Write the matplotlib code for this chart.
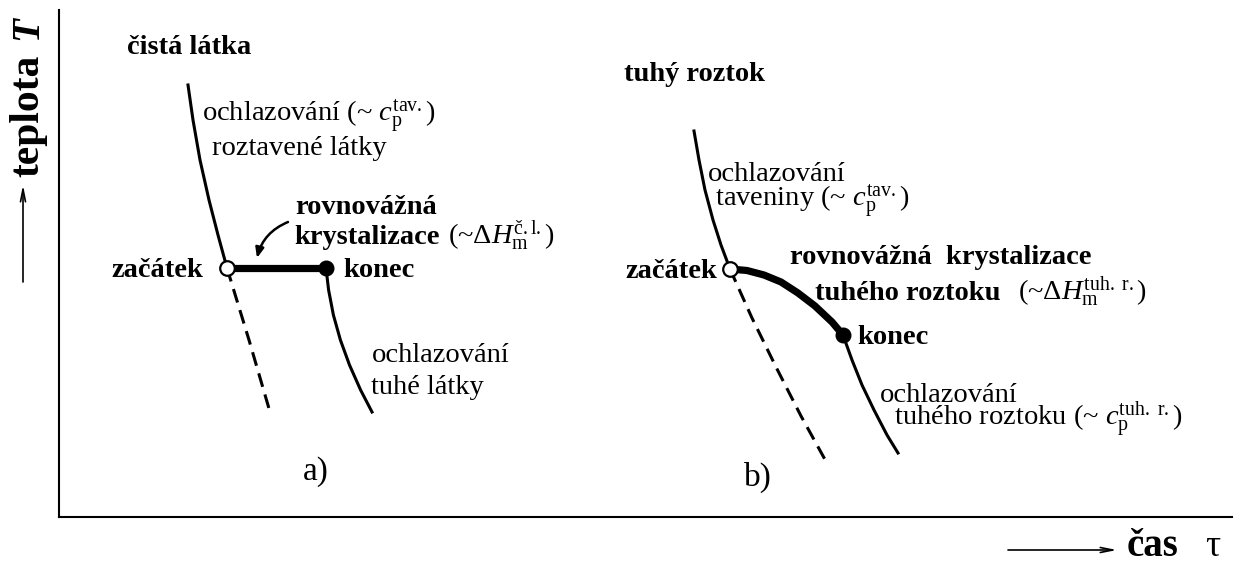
import matplotlib
matplotlib.use("Agg")
import matplotlib.pyplot as plt

plt.rcParams['font.family'] = ['Liberation Serif', 'DejaVu Serif']
plt.rcParams['mathtext.fontset'] = 'custom'
plt.rcParams['mathtext.rm'] = 'Liberation Serif'
plt.rcParams['mathtext.it'] = 'Liberation Serif:italic'
plt.rcParams['mathtext.bf'] = 'Liberation Serif:bold'

# ---- data (time tau, temperature T in arbitrary units) ----
# panel a) pure substance
melt_a_tau = [12.9, 13.4, 14.1, 15.0, 15.9, 16.8]
melt_a_T = [43.2, 39.7, 35.7, 31.7, 28.2, 24.9]
under_a_tau = [16.8, 19.0, 21.1]
under_a_T = [24.9, 17.7, 10.5]
plateau_a_tau = [16.8, 26.7]
plateau_a_T = [24.9, 24.9]
solid_a_tau = [26.7, 26.96, 27.44, 28.14, 29.05, 30.16, 31.3]
solid_a_T = [24.9, 22.7, 20.2, 17.7, 15.2, 12.7, 10.5]

# panel b) solid solution
melt_b_tau = [63.5, 64.0, 64.6, 65.4, 66.2, 67.1]
melt_b_T = [38.6, 35.7, 32.7, 29.7, 27.2, 24.8]
under_b_tau = [67.1, 69.3, 71.7, 74.2, 76.9]
under_b_T = [24.8, 19.9, 15.0, 10.1, 5.2]
cryst_b_tau = [67.1, 68.8, 70.5, 72.2, 73.9, 75.6, 77.3, 78.4]
cryst_b_T = [24.8, 24.65, 24.2, 23.5, 22.4, 21.1, 19.5, 18.2]
solid_b_tau = [78.4, 79.3, 80.3, 81.5, 82.8, 83.9]
solid_b_T = [18.2, 15.7, 13.2, 10.7, 8.2, 6.4]

start_tau = [16.8, 67.1]
start_T = [24.9, 24.8]
end_tau = [26.7, 78.4]
end_T = [24.9, 18.2]

W, H = 1237, 566
fig = plt.figure(figsize=(W / 100, H / 100), dpi=100)
ax = fig.add_axes([59 / W, (H - 517) / H, (1232 - 59) / W, (517 - 10) / H])
ax.set_xlim(0, 117.3)
ax.set_ylim(0, 50.7)
ax.set_xticks([])
ax.set_yticks([])
for s in ['top', 'right']:
    ax.spines[s].set_visible(False)
for s in ['left', 'bottom']:
    ax.spines[s].set_linewidth(1.5)
    ax.spines[s].set_color('black')

lw = 2.2
dash = (0, (4.6, 2.6))
# panel a
ax.plot(melt_a_tau, melt_a_T, color='black', lw=lw, solid_joinstyle='round')
ax.plot(under_a_tau, under_a_T, color='black', lw=lw, ls=dash)
ax.plot(plateau_a_tau, plateau_a_T, color='black', lw=5.2, solid_capstyle='butt')
ax.plot(solid_a_tau, solid_a_T, color='black', lw=lw, solid_joinstyle='round')
# panel b
ax.plot(melt_b_tau, melt_b_T, color='black', lw=lw, solid_joinstyle='round')
ax.plot(under_b_tau, under_b_T, color='black', lw=lw, ls=dash)
ax.plot(cryst_b_tau, cryst_b_T, color='black', lw=5.2, solid_joinstyle='round')
ax.plot(solid_b_tau, solid_b_T, color='black', lw=lw, solid_joinstyle='round')

ax.plot(start_tau, start_T, 'o', ms=10.5, mfc='white', mec='black', mew=1.6, zorder=5)
ax.plot(end_tau, end_T, 'o', ms=10.5, mfc='black', mec='black', zorder=5)

fs = 20.5
B = dict(fontsize=fs, fontweight='bold', va='baseline')
R = dict(fontsize=fs, va='baseline')

# panel a texts
ax.text(6.8, 46.3, 'čistá látka', **B)
ax.text(14.3, 39.5, r'ochlazování (~ $c_\mathrm{p}^\mathrm{tav.}$)', **R)
ax.text(15.3, 36.2, 'roztavené látky', **R)
ax.text(23.6, 30.3, 'rovnovážná', **B)
ax.text(23.5, 27.3, 'krystalizace', **B)
ax.text(38.9, 27.3, r'(~$\Delta H_\mathrm{m}^\mathrm{č.l.}$)', **R)
ax.text(14.4, 24.0, 'začátek', ha='right', **B)
ax.text(28.4, 24.0, 'konec', **B)
ax.text(31.3, 15.5, 'ochlazování', **R)
ax.text(31.2, 12.3, 'tuhé látky', **R)
ax.text(25.7, 4.5, 'a)', ha='center', fontsize=24, va='center')
ax.annotate('', xy=(19.8, 25.9), xytext=(22.9, 29.5),
            arrowprops=dict(arrowstyle='-|>,head_length=0.6,head_width=0.25',
                            connectionstyle='arc3,rad=0.25', color='black', lw=1.8,
                            shrinkA=0, shrinkB=0))

# panel b texts
ax.text(64.9, 31.0, 'ochlazování\n taveniny (~ $c_\\mathrm{p}^\\mathrm{tav.}$)',
        linespacing=0.82, **R)
ax.text(56.5, 43.6, 'tuhý roztok', **B)
ax.text(65.8, 23.9, 'začátek', ha='right', **B)
ax.text(73.1, 25.3, 'rovnovážná  krystalizace', **B)
ax.text(75.6, 21.7, 'tuhého roztoku', **B)
ax.text(95.9, 21.7, r'(~$\Delta H_\mathrm{m}^\mathrm{tuh.\ r.}$)', **R)
ax.text(79.8, 17.3, 'konec', **B)
ax.text(82.1, 9.1, 'ochlazování\n  tuhého roztoku (~ $c_\\mathrm{p}^\\mathrm{tuh.\\ r.}$)',
        linespacing=0.68, **R)
ax.text(69.9, 4.0, 'b)', ha='center', fontsize=24, va='center')

# axis labels
fig.text(28 / W, 1 - 116 / H, 'teplota', rotation=90, fontsize=30, fontweight='bold',
         ha='center', va='center')
fig.text(28 / W, 1 - 28 / H, 'T', rotation=90, fontsize=28, fontweight='bold',
         fontstyle='italic', ha='center', va='center')
ax.annotate('', xy=(23 / W, 1 - 185 / H), xytext=(23 / W, 1 - 282 / H),
            xycoords='figure fraction', textcoords='figure fraction',
            arrowprops=dict(arrowstyle='->,head_length=0.9,head_width=0.18',
                            color='black', lw=1.2, shrinkA=0, shrinkB=0),
            annotation_clip=False)
ax.annotate('', xy=(1117 / W, 1 - 550 / H), xytext=(1008 / W, 1 - 550 / H),
            xycoords='figure fraction', textcoords='figure fraction',
            arrowprops=dict(arrowstyle='->,head_length=0.9,head_width=0.18',
                            color='black', lw=1.2, shrinkA=0, shrinkB=0),
            annotation_clip=False)
fig.text(1127 / W, 1 - 556 / H, 'čas', fontsize=28, fontweight='bold', ha='left', va='baseline')
fig.text(1205 / W, 1 - 556 / H, 'τ', fontsize=27, ha='left', va='baseline')

fig.savefig('out.png', dpi=100, facecolor='white')
